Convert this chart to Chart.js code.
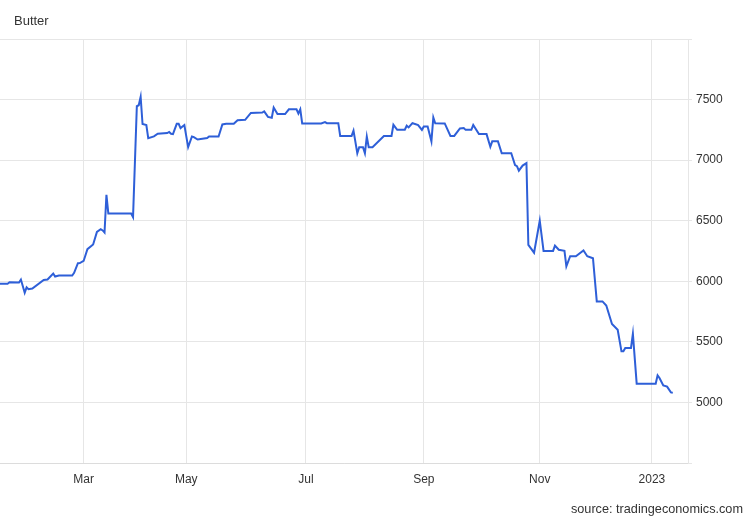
<!DOCTYPE html>
<html>
<head>
<meta charset="utf-8">
<script src="https://cdn.jsdelivr.net/npm/chart.js@4"></script>
<style>
  html, body { margin: 0; padding: 0; background: #fff; }
  #wrap { position: relative; width: 750px; height: 520px; font-family: "Liberation Sans", Arial, sans-serif; }
  #title { position: absolute; left: 14px; top: 13px; font-size: 13px; color: #333; }
  #source { position: absolute; right: 7px; top: 502px; font-size: 12.7px; color: #333; }
  canvas { position: absolute; left: 0; top: 0; }
</style>
</head>
<body>
<div id="wrap">
  <canvas id="chart" width="750" height="520"></canvas>
  <div id="title">Butter</div>
  <div id="source">source: tradingeconomics.com</div>
</div>
<script>
// x = day index along the chart, y = price
const days = [0, 4, 5, 10, 11, 13, 14, 15, 17, 23, 25, 28, 29, 31, 38, 39, 41, 42, 44, 46,
  49, 51, 53, 54, 55, 56, 57, 69, 70, 72, 73, 74, 75, 77, 78, 81, 83, 88, 89, 90,
  91, 93, 94, 95, 97, 99, 101, 102, 104, 109, 110, 115, 117, 119, 123, 125, 129, 132, 138, 139,
  141, 143, 144, 146, 150, 152, 156, 157, 158, 159, 169, 171, 172, 178, 179, 185, 186, 188, 189, 191,
  192, 193, 194, 196, 202, 206, 207, 209, 213, 214, 215, 217, 218, 220, 222, 223, 225, 227, 228, 229,
  234, 237, 239, 242, 244, 245, 248, 249, 252, 256, 258, 259, 262, 264, 269, 271, 272, 273, 275, 277,
  278, 281, 284, 286, 291, 292, 294, 297, 298, 300, 303, 307, 309, 312, 314, 317, 319, 322, 325, 327,
  328, 329, 332, 333, 335, 345, 346, 347, 349, 351, 353, 354];
const prices = [5980, 5980, 5992, 5990, 6014, 5906, 5950, 5934, 5940, 6011, 6015, 6064, 6039, 6048, 6048, 6070, 6149, 6150, 6168, 6265,
  6304, 6408, 6430, 6420, 6403, 6714, 6560, 6560, 6530, 7445, 7453, 7522, 7298, 7290, 7182, 7196, 7218, 7224, 7233, 7218,
  7215, 7300, 7300, 7265, 7290, 7107, 7195, 7190, 7170, 7182, 7195, 7195, 7295, 7300, 7300, 7330, 7333, 7390, 7393, 7402,
  7357, 7350, 7434, 7380, 7380, 7420, 7420, 7385, 7420, 7303, 7303, 7314, 7305, 7305, 7200, 7200, 7243, 7057, 7107, 7107,
  7057, 7194, 7107, 7107, 7200, 7200, 7292, 7251, 7251, 7284, 7270, 7306, 7300, 7290, 7250, 7278, 7278, 7155, 7352, 7305,
  7303, 7200, 7200, 7262, 7265, 7250, 7250, 7290, 7215, 7215, 7110, 7155, 7155, 7057, 7057, 6960, 6950, 6913, 6955, 6975,
  6300, 6236, 6500, 6251, 6251, 6295, 6260, 6251, 6124, 6207, 6207, 6254, 6207, 6190, 5834, 5834, 5800, 5648, 5600, 5422,
  5422, 5450, 5450, 5566, 5155, 5155, 5224, 5202, 5141, 5130, 5083, 5080];

const tickDays = [44, 98, 161, 223, 284, 343];
const tickLabels = ['Mar', 'May', 'Jul', 'Sep', 'Nov', '2023'];
const yTicks = [5000, 5500, 6000, 6500, 7000, 7500];

const points = days.map((d, i) => ({ x: d, y: prices[i] }));
const gridColor = '#e6e6e6';
const textColor = '#333';

new Chart(document.getElementById('chart'), {
  type: 'line',
  data: {
    datasets: [{
      data: points,
      borderColor: '#2e5fd8',
      borderWidth: 2,
      pointRadius: 0,
      tension: 0,
      fill: false
    }]
  },
  options: {
    responsive: false,
    animation: false,
    devicePixelRatio: 1,
    layout: { padding: { left: 0, top: 39, right: 0, bottom: 0 } },
    plugins: { legend: { display: false }, tooltip: { enabled: false } },
    scales: {
      x: {
        type: 'linear',
        min: 0,
        max: 362,
        afterBuildTicks: scale => { scale.ticks = tickDays.map(v => ({ value: v })); },
        afterFit: scale => { scale.height = 57; },
        grid: { color: gridColor, drawTicks: false },
        border: { color: '#dcdcdc' },
        ticks: {
          color: textColor,
          font: { family: 'Liberation Sans', size: 12 },
          padding: 9,
          maxRotation: 0,
          autoSkip: false,
          callback: (v, i) => tickLabels[i]
        }
      },
      y: {
        position: 'right',
        min: 4500,
        max: 8000,
        afterFit: scale => { scale.width = 62; },
        grid: { color: gridColor, tickLength: 4 },
        border: { color: gridColor },
        ticks: {
          stepSize: 500,
          color: textColor,
          font: { family: 'Liberation Sans', size: 12 },
          padding: 4,
          callback: v => yTicks.includes(v) ? String(v) : ''
        }
      }
    }
  }
});
</script>
</body>
</html>
